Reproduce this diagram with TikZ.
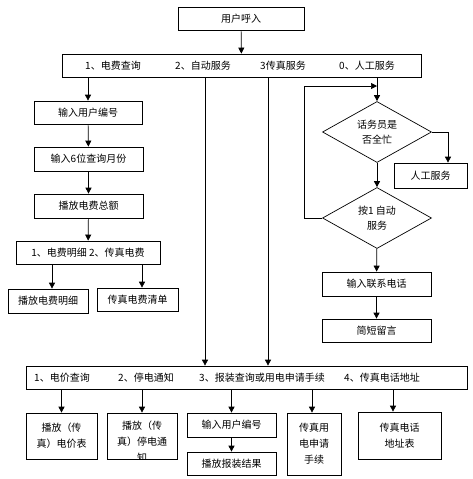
\documentclass[tikz,border=0pt]{standalone}
\usepackage{fontspec}
\setmainfont{Noto Sans CJK SC}
\usepackage{tikz}
\usetikzlibrary{shapes.geometric,arrows.meta,positioning,calc}

\begin{document}
\begin{tikzpicture}[
    x=1pt, y=-1pt,
    font=\fontsize{10}{16}\selectfont,
    line width=0.7pt,
    box/.style={rectangle, draw, inner sep=1pt, align=center, minimum height=23},
    ask/.style={diamond, draw, aspect=1.8, inner sep=1pt, align=center, minimum width=109, minimum height=61, font=\fontsize{10}{15}\selectfont},
    arr/.style={-{Triangle[length=6pt,width=6pt]}},
]
\useasboundingbox (0,0) rectangle (472,479);

% call in and main menu
\node[box, minimum width=126] (call) at (241,18.5) {用户呼入};
\node[box, minimum width=359] (menu) at (241.5,65.5) {};
\node (m1) at (113,66) {1、电费查询};
\node (m2) at (203,66) {2、自动服务};
\node (m3) at (283,66) {3传真服务};
\node (m4) at (367,66) {0、人工服务};

% bill query
\node[box, minimum width=108] (n1) at (88,112.5) {输入用户编号};
\node[box, minimum width=109, minimum height=24] (n2) at (88.5,159) {输入6位查询月份};
\node[box, minimum width=109, minimum height=24] (n3) at (88.5,206) {播放电费总额};
\node[box, minimum width=144] (n4) at (88,252.5) {1、电费明细 2、传真电费};
\node[box, minimum width=80, minimum height=24] (n5) at (48,301) {播放电费明细};
\node[box, minimum width=81] (n6) at (137.5,299.5) {传真电费清单};

% manual service
\node[ask] (d1) at (377,132) {话务员是\\否全忙};
\node[box, minimum width=73, minimum height=25] (staff) at (430.5,175.5) {人工服务};
\node[ask] (d2) at (377,218) {按1 自动\\服务};
\node[box, minimum width=109, minimum height=24] (n7) at (376.5,284) {输入联系电话};
\node[box, minimum width=109] (n8) at (376.5,330.5) {简短留言};
\coordinate (back) at (304,86);

% auto / fax service
\node[box, minimum width=441] (bar) at (246.5,377.5) {};
\node (c1) at (62,378) {1、电价查询};
\node (c2) at (146,378) {2、停电通知};
\node (c3) at (262,378) {3、报装查询或用电申请手续};
\node (c4) at (382,378) {4、传真电话地址};
\coordinate (autoline) at (205,0);
\coordinate (faxline) at (268,0);

\node[box, minimum width=71, minimum height=46] (b1) at (61.5,436) {播放（传\\真）电价表};
\node[box, minimum width=70, minimum height=46] (b2) at (142,436) {};
\begin{scope}
\clip (b2.south west) rectangle (b2.north east);
\node[align=center] (b2txt) at (142,442) {播放（传\\真）停电通\\知};
\end{scope}
\node[box, minimum width=89, minimum height=24] (b3) at (231.5,425) {输入用户编号};
\node[box, minimum width=89] (b4) at (231.5,463.5) {播放报装结果};
\node[box, minimum width=54, minimum height=62] (b5) at (314,444) {传真用\\电申请\\手续};
\node[box, minimum width=83, minimum height=47] (b6) at (399.5,435.5) {传真电话\\地址表};

% connectors
\draw[arr] (call) -- (menu);
\draw[arr] (menu.south -| n1.north) -- (n1);
\draw[arr] (n1) -- (n2);
\draw[arr] (n2) -- (n3);
\draw[arr] (n3) -- (n4);
\draw[arr] ([xshift=-36]n4.south) -- ([xshift=-36]n4.south |- n5.north);
\draw[arr] ([xshift=54]n4.south) -- ([xshift=54]n4.south |- n6.north);

\draw[arr] (menu.south -| autoline) -- (bar.north -| autoline);
\draw[arr] (menu.south -| faxline) -- (bar.north -| faxline);

\draw[arr] (menu.south -| d1.north) -- (d1);
\draw[arr] (d1.east) -| ([xshift=17.5]staff.north);
\draw[arr] (d1) -- (d2);
\draw[arr] (d2.west) -| (back) -- (back -| d1.north);
\draw[arr] (d2) -- (n7);
\draw[arr] (n7) -- (n8);

\draw[arr] (bar.south -| b1.north) -- (b1);
\draw[arr] (bar.south -| b2.north) -- (b2);
\draw[arr] (bar.south -| b3.north) -- (b3);
\draw[arr] ([xshift=-2]bar.south -| b5.north) -- ([xshift=-2]b5.north);
\draw[arr] ([xshift=-6.5]bar.south -| b6.north) -- ([xshift=-6.5]b6.north);
\draw[arr] (b3) -- (b4);

\end{tikzpicture}
\end{document}
